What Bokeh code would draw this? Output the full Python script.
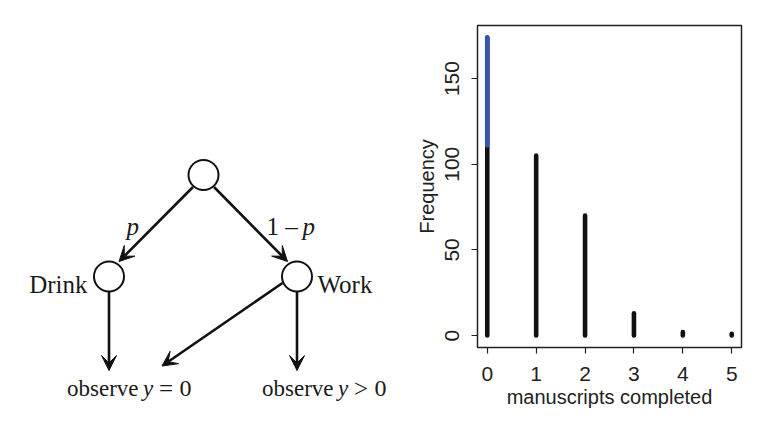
from bokeh.plotting import figure
from bokeh.layouts import row
from bokeh.models import Range1d, FixedTicker, ColumnDataSource, Arrow, VeeHead
from bokeh.core.properties import value
from bokeh.embed import file_html
from bokeh.resources import INLINE

# ---------------- data (right panel) ----------------
manuscripts = [0, 1, 2, 3, 4, 5]
frequency = [174, 105, 70, 13, 2, 1]
zero_start = [0, 0, 0, 0, 0, 0]
drink_x = [0]
zeros_work = [111]     # zeros produced on working days
zeros_total = [174]    # all zeros (work + drink)
x_ticks = [0, 1, 2, 3, 4, 5]
y_ticks = [0, 50, 100, 150]

# ---------------- diagram (left panel) ----------------
node_x = [203, 108.5, 296.5]
node_y = [174.5, 276, 276]
edge_x0 = [192.5, 213.5, 108.5, 296.5, 282.0]
edge_y0 = [186.5, 186.5, 291.0, 291.0, 282.5]
edge_x1 = [118.5, 287.0, 108.5, 296.5, 161.5]
edge_y1 = [261.0, 261.0, 370.0, 370.0, 365.5]

SERIF = value("Liberation Serif")
SANS = "Liberation Sans"

H = 424
TOP, BOTTOM = 25, 77
W1 = 398

p1 = figure(width=W1, height=H, x_range=Range1d(0, W1), y_range=Range1d(H, 0),
            output_backend="svg", toolbar_location=None, min_border=0)
p1.frame_align = False
p1.axis.visible = False
p1.grid.visible = False
p1.outline_line_color = None
p1.background_fill_color = "white"
p1.border_fill_color = "white"

esrc = ColumnDataSource(dict(x0=edge_x0, y0=edge_y0, x1=edge_x1, y1=edge_y1))
p1.add_layout(Arrow(end=VeeHead(size=15, fill_color="#111111", line_color="#111111", line_width=1),
                    x_start="x0", y_start="y0", x_end="x1", y_end="y1", source=esrc,
                    line_width=2.6, line_color="#111111"))
p1.scatter(node_x, node_y, marker="circle", size=30, fill_color="white",
           line_color="#111111", line_width=2)

def txt(x, y, s, align="left", style="normal", size="25px"):
    p1.text(x=[x], y=[y], text=[s], text_font=SERIF, text_font_size=size,
            text_font_style=style, text_align=align, text_baseline="alphabetic",
            text_color="#1a1a1a")

txt(87, 283.5, "Drink", align="right")
txt(317, 283.5, "Work")
txt(126, 226, "p", style="italic")
txt(266, 226, "1 \u2013")
txt(302, 226, "p", style="italic")
for dx, rel in [(0, "="), (195, ">")]:
    txt(66.5 + dx, 388, "observe", size="23px")
    txt(142.5 + dx, 388, "y", style="italic", size="23px")
    txt(158.5 + dx, 388, rel, size="25px")
    txt(179 + dx, 388, "0", size="24px")

# ---------------- right panel ----------------
p2 = figure(width=362, height=H, x_range=Range1d(-0.2, 5.2), y_range=Range1d(-6.96, 180.96),
            output_backend="svg", toolbar_location=None,
            min_border_left=79, min_border_right=19, min_border_top=TOP, min_border_bottom=BOTTOM)
p2.frame_align = False
p2.segment(x0=manuscripts, y0=zero_start, x1=manuscripts, y1=frequency,
           line_width=4.6, line_color="#111111", line_cap="round")
p2.segment(x0=drink_x, y0=zeros_work, x1=drink_x, y1=zeros_total,
           line_width=4.6, line_color="#3556b0", line_cap="round")

p2.grid.visible = False
p2.outline_line_color = "#222222"
p2.outline_line_width = 1.5
p2.xaxis.ticker = FixedTicker(ticks=x_ticks)
p2.yaxis.ticker = FixedTicker(ticks=y_ticks)
p2.yaxis.major_label_orientation = "vertical"
p2.xaxis.axis_label = "manuscripts completed"
p2.yaxis.axis_label = "Frequency"
for ax in (p2.xaxis[0], p2.yaxis[0]):
    ax.axis_line_color = None
    ax.major_tick_out = 6
    ax.major_tick_in = 0
    ax.minor_tick_line_color = None
    ax.major_tick_line_color = "#222222"
    ax.major_tick_line_width = 1.2
    ax.major_label_text_font = SANS
    ax.major_label_text_font_size = "21px"
    ax.major_label_text_color = "#222222"
    ax.axis_label_text_font = SANS
    ax.axis_label_text_font_size = "20px"
    ax.axis_label_text_font_style = "normal"
    ax.axis_label_text_color = "#222222"
p2.yaxis[0].major_label_standoff = 12
p2.yaxis[0].axis_label_standoff = 5
p2.xaxis[0].major_label_standoff = 13
p2.xaxis[0].axis_label_standoff = 2

layout = row(p1, p2)
open("out.html", "w").write(file_html(layout, INLINE))
